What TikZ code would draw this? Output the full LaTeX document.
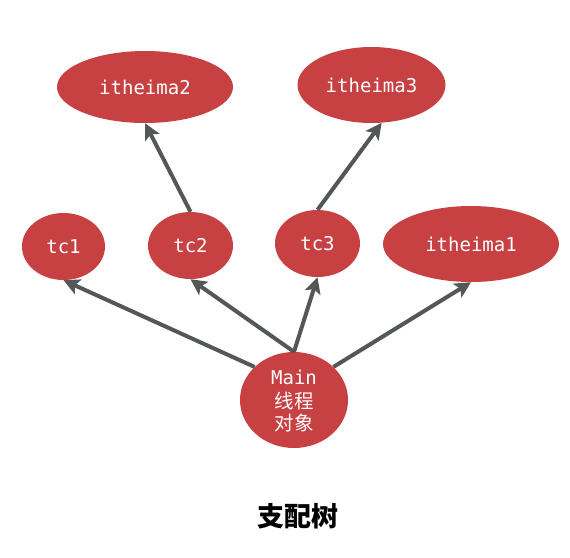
\documentclass[tikz,border=0pt]{standalone}
\usepackage{fontspec}
\setmonofont{DejaVu Sans Mono}
\newfontfamily\cjk{Noto Sans CJK SC}
\usetikzlibrary{shapes.geometric,arrows.meta}
\definecolor{nodered}{RGB}{199,64,66}
\definecolor{edgegray}{RGB}{83,87,86}
\tikzset{
  ell/.style={ellipse, fill=nodered, draw=none, inner sep=0pt, text=white,
    font=\ttfamily\fontsize{19}{22}\selectfont},
  arr/.style={draw=edgegray, line width=4pt,
    -{Stealth[length=16pt,width=16pt,inset=3.5pt]}}
}
\begin{document}
\begin{tikzpicture}[x=1pt,y=-1pt]
\useasboundingbox (0,0) rectangle (570,557);
\node[ell, minimum width=176pt, minimum height=72pt] (i2) at (145,87) {itheima2};
\node[ell, minimum width=148pt, minimum height=76pt] (i3) at (371.5,85) {itheima3};
\node[ell, minimum width=83pt, minimum height=67pt] (tc1) at (63.5,246.5) {tc1};
\node[ell, minimum width=85pt, minimum height=67pt] (tc2) at (190.5,245.5) {tc2};
\node[ell, minimum width=85pt, minimum height=67pt] (tc3) at (317.5,243.5) {tc3};
\node[ell, minimum width=176pt, minimum height=76pt] (i1) at (471,244) {itheima1};
\node[ell, minimum width=108pt, minimum height=96pt, align=center, text depth=0pt] (main) at (294,400)
  {Main\\[2pt]{\cjk\fontsize{19.5}{23}\selectfont 线程}\\{\cjk\fontsize{19.5}{23}\selectfont 对象}};
\node[font=\cjk\bfseries\fontsize{27}{30}\selectfont] (title) at (298,516.5) {支配树};
\draw[arr] (main.140) -- (tc1.south);
\draw[arr] (main.north) -- (tc2.south);
\draw[arr] (main.north) -- (tc3.south);
\draw[arr] (main.40) -- (i1.south);
\draw[arr] (tc2.north) -- (i2.south);
\draw[arr] (tc3.north) -- (i3.-75);
\end{tikzpicture}
\end{document}
